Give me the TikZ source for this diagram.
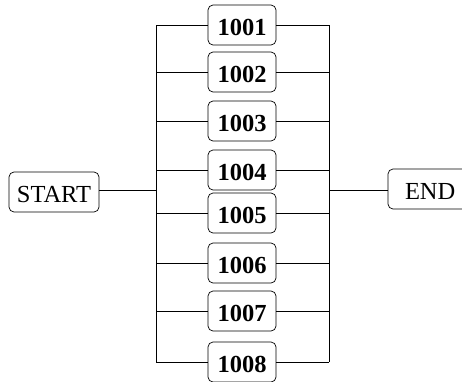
\documentclass[tikz,border=0pt]{standalone}
\usepackage{fontspec}
\setmainfont{Liberation Serif}
\begin{document}
\begin{tikzpicture}[x=1pt,y=-1pt,
  box/.style={draw,rounded corners=5pt,line width=0.7pt,inner sep=0pt,minimum height=40pt,text height=21.5pt,text depth=0pt},
  num/.style={box,minimum width=68pt,font=\fontsize{24.5}{28}\selectfont\bfseries},
  term/.style={box,font=\fontsize{24.5}{28}\selectfont},
  wire/.style={line width=0.7pt}]
\useasboundingbox (0,0) rectangle (462,381);
\clip (0,0) rectangle (462,381);
\node[term,minimum width=90pt] (start) at (54,192) {START};
\node[term,minimum width=84pt,text width=84pt,align=left] (end) at (430,189) {\hspace*{17pt}END};
\coordinate (lb) at (156,190);
\coordinate (rb) at (329,190);
\foreach \i/\y in {1/25,2/72,3/121,4/170,5/213,6/263,7/311,8/362}{
  \node[num] (n\i) at (242,\y) {100\i};
  \draw[wire] (n\i.west) -- (lb |- n\i.west);
  \draw[wire] (n\i.east) -- (rb |- n\i.east);
}
\draw[wire] (lb |- n1.west) -- (lb |- n8.west);
\draw[wire] (rb |- n1.east) -- (rb |- n8.east);
\draw[wire] (start.east |- lb) -- (lb);
\draw[wire] (rb) -- (end.west |- rb);
\end{tikzpicture}
\end{document}
